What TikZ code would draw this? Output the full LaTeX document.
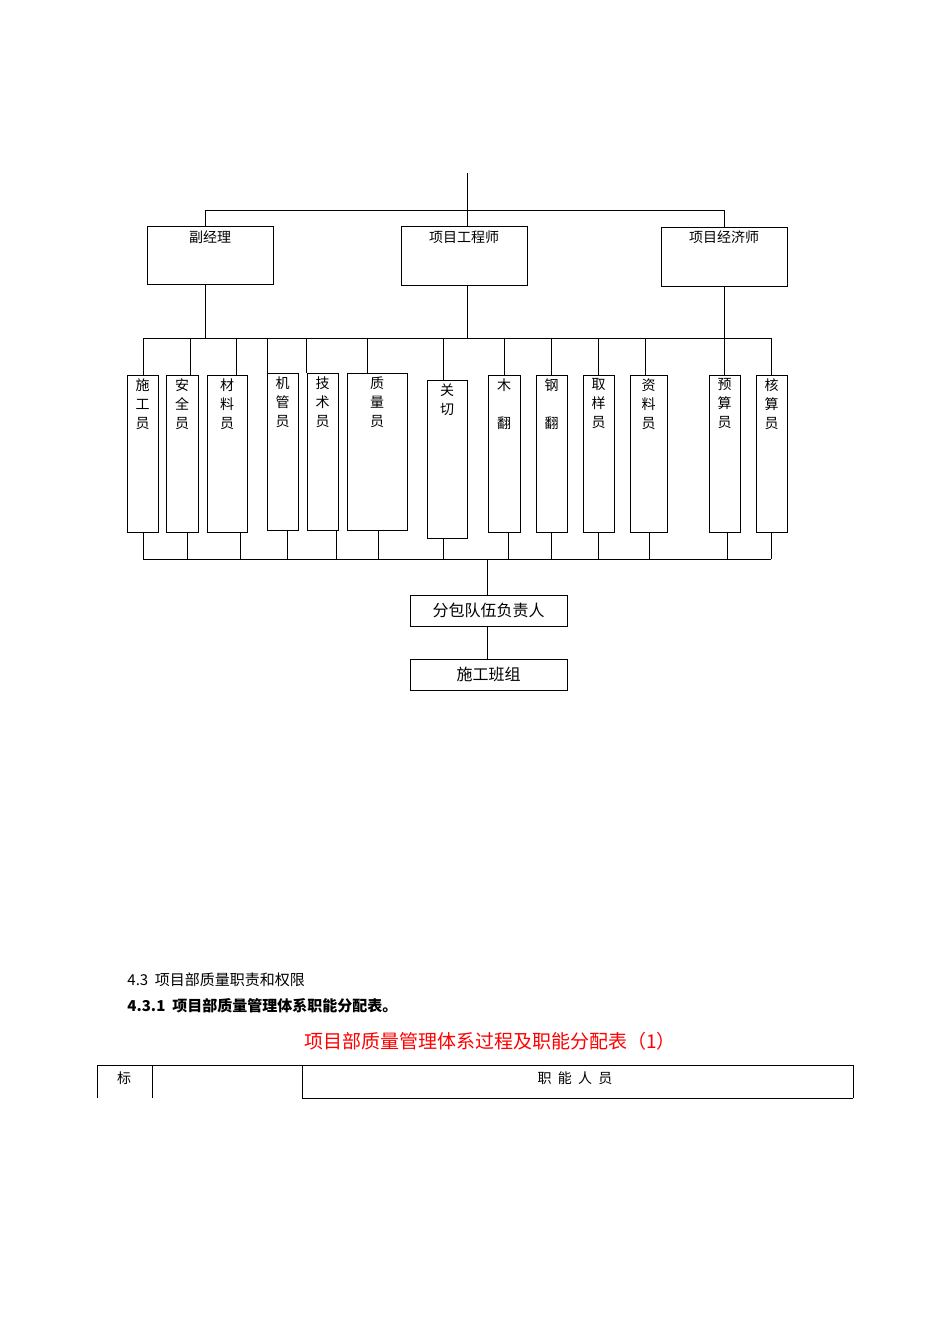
\documentclass[tikz,border=0pt]{standalone}
\usepackage{fontspec}
\usetikzlibrary{fit}
\newfontfamily\cjk{Noto Sans CJK SC}
\begin{document}
\begin{tikzpicture}[x=1pt,y=-1pt,line width=0.9pt,
  box/.style={draw,anchor=north west,inner sep=0pt},
  t/.style={font=\cjk\fontsize{14}{16}\selectfont,inner sep=0pt},
  vt/.style={font=\cjk\fontsize{14}{19}\selectfont,inner sep=0pt,align=center,anchor=north}]
\useasboundingbox (0,0) rectangle (950,1344);
% top level
\coordinate (top) at (467,173);
\coordinate (hl) at (205,210); \coordinate (hr) at (724,210);
\draw (top) -- (467,210);
\draw (hl) -- (hr);
\node[box,minimum width=126pt,minimum height=58pt] (f) at (147,226) {};
\node[box,minimum width=126pt,minimum height=59pt] (g) at (401,226) {};
\node[box,minimum width=126pt,minimum height=59pt] (j) at (661,227) {};
\node[t,anchor=north] at (210,230) {副经理};
\node[t,anchor=north] at (464,230) {项目工程师};
\node[t,anchor=north] at (724,230) {项目经济师};
\draw (205,210) -- (f.north-|205,0);
\draw (467,210) -- (g.north-|467,0);
\draw (724,210) -- (j.north-|724,0);
\draw (f.south-|205,0) -- (205,338);
\draw (g.south-|467,0) -- (467,338);
\draw (j.south-|724,0) -- (724,338);
\draw (143,338) -- (771,338);
\draw (143,559) -- (771,559);
\foreach \a/\b/\c/\d/\tt/\tb/\txt [count=\i] in {
 127/158/375/532/143/143/{施\\工\\员},
 166/198/375/532/190/187/{安\\全\\员},
 207/247/375/532/236/240/{材\\料\\员},
 267/298/373/530/267/287/{机\\管\\员},
 307/338/373/530/306/336/{技\\术\\员},
 347/407/373/530/367/378/{质\\量\\员},
 427/467/380/538/443/443/{关\\切},
 488/520/375/532/504/508/{木\\ \\翻},
 536/567/375/532/551/551/{钢\\ \\翻},
 583/614/375/532/598/598/{取\\样\\员},
 630/667/375/532/645/649/{资\\料\\员},
 709/740/375/532/724/727/{预\\算\\员},
 756/787/375/532/771/771/{核\\算\\员}} {
  \node[draw,inner sep=0pt,fit={(\a,\c) (\b,\d)}] (v\i) {};
  \draw (\tt,338) -- (\tt,\c);
  \draw (\tb,\d) -- (\tb,559);
  \node[vt] at ({(\a+\b)/2},{\c+3}) {\txt};
}
\node[draw,minimum width=157pt,minimum height=31pt,inner sep=0pt,font=\cjk\fontsize{16}{18}\selectfont] (fb) at (488.5,610.5) {分包队伍负责人};
\node[draw,minimum width=157pt,minimum height=31pt,inner sep=0pt,font=\cjk\fontsize{16}{18}\selectfont] (bz) at (488.5,674.5) {施工班组};
\draw (487,559) -- (fb.north-|487,0);
\draw (fb.south-|487,0) -- (bz.north-|487,0);
\node[t,anchor=west,font=\cjk\fontsize{15}{17}\selectfont] at (127,980) {4.3\ \ 项目部质量职责和权限};
\node[t,anchor=west,font=\cjk\bfseries\fontsize{15}{17}\selectfont] at (127,1006) {4.3.1\ \ 项目部质量管理体系职能分配表。};
\node[t,text=red,font=\cjk\fontsize{19}{21}\selectfont] at (490,1041) {项目部质量管理体系过程及职能分配表（1）};
\draw (97,1065) -- (853,1065);
\draw (302,1098) -- (853,1098);
\draw (97,1065) -- (97,1098);
\draw (152,1065) -- (152,1098);
\draw (302,1065) -- (302,1098);
\draw (853,1065) -- (853,1098);
\node[t] at (124,1078) {标};
\node[t] at (575,1078) {职\ \ 能\ \ 人\ \ 员};
\end{tikzpicture}
\end{document}
